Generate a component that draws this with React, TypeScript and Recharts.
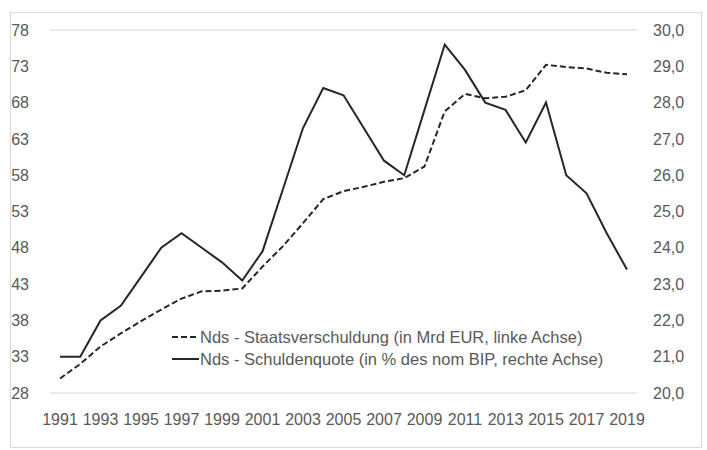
import React from 'react';
import { LineChart, Line, XAxis, YAxis, CartesianGrid } from 'recharts';

const years = ['1991', '1992', '1993', '1994', '1995', '1996', '1997', '1998', '1999', '2000', '2001', '2002', '2003', '2004', '2005', '2006', '2007', '2008', '2009', '2010', '2011', '2012', '2013', '2014', '2015', '2016', '2017', '2018', '2019'];
const debt = [30.0, 32.0, 34.4, 36.2, 37.9, 39.5, 41.0, 42.0, 42.1, 42.4, 45.4, 48.2, 51.4, 54.7, 55.8, 56.4, 57.1, 57.6, 59.2, 66.8, 69.2, 68.6, 68.8, 69.7, 73.2, 72.9, 72.7, 72.1, 71.9];
const quota = [21.0, 21.0, 22.0, 22.4, 23.2, 24.0, 24.4, 24.0, 23.6, 23.1, 23.9, 25.6, 27.3, 28.4, 28.2, 27.3, 26.4, 26.0, 27.8, 29.6, 28.9, 28.0, 27.8, 26.9, 28.0, 26.0, 25.5, 24.4, 23.4];
const leftTicks = [28, 33, 38, 43, 48, 53, 58, 63, 68, 73, 78];
const rightTicks = [20, 21, 22, 23, 24, 25, 26, 27, 28, 29, 30];
const legendLabels = [
  'Nds - Staatsverschuldung (in Mrd EUR, linke Achse)',
  'Nds - Schuldenquote (in % des nom BIP, rechte Achse)',
];

const data = years.map((y, i) => ({ year: y, debt: debt[i], quota: quota[i] }));

const FONT = '"Liberation Sans", Arial, sans-serif';
const TXT = '#595959';
const LINE = '#262626';

function ChartLegend() {
  return (
    <div style={{ position: 'absolute', left: 172, top: 326, fontFamily: FONT, fontSize: 16.5, color: TXT, whiteSpace: 'nowrap' }}>
      {legendLabels.map((l, i) => (
        <div key={i} style={{ display: 'flex', alignItems: 'center', height: 22 }}>
          <svg width={28} height={10} style={{ display: 'block' }}>
            <line x1={0} y1={5} x2={27} y2={5} stroke={LINE} strokeWidth={2} strokeDasharray={i === 0 ? '6 3' : undefined} />
          </svg>
          <span>{l}</span>
        </div>
      ))}
    </div>
  );
}

export default function App() {
  return (
    <div style={{ position: 'fixed', top: 0, left: 0, width: 707, height: 450, background: '#fff' }}>
      <div style={{ position: 'absolute', left: 10, top: 12, width: 692, height: 436, border: '1px solid #d9d9d9', boxSizing: 'border-box' }} />
      <div style={{ position: 'absolute', left: 0, top: 0 }}>
        <LineChart width={707} height={450} data={data} margin={{ top: 30, right: 10, bottom: 27, left: 10 }}>
          <CartesianGrid vertical={false} stroke="#e4e4e4" strokeWidth={1.5} />
          <XAxis
            dataKey="year"
            interval={1}
            axisLine={false}
            tickLine={false}
            tickSize={0}
            tickMargin={21}
            height={30}
            padding={{ left: 10, right: 10 }}
            tick={{ fill: TXT, fontSize: 16, fontFamily: FONT }}
          />
          <YAxis
            yAxisId="left"
            domain={[28, 78]}
            ticks={leftTicks}
            axisLine={false}
            tickLine={false}
            tickSize={0}
            tickMargin={21}
            width={40}
            tick={{ fill: TXT, fontSize: 16, fontFamily: FONT }}
          />
          <YAxis
            yAxisId="right"
            orientation="right"
            domain={[20, 30]}
            ticks={rightTicks}
            axisLine={false}
            tickLine={false}
            tickSize={0}
            tickMargin={16}
            width={60}
            tickFormatter={(v: number) => v.toFixed(1).replace('.', ',')}
            tick={{ fill: TXT, fontSize: 16, fontFamily: FONT, textAnchor: 'start' }}
          />
          <Line yAxisId="left" type="linear" dataKey="debt" stroke={LINE} strokeWidth={2} strokeDasharray="6 3" dot={false} isAnimationActive={false} />
          <Line yAxisId="right" type="linear" dataKey="quota" stroke={LINE} strokeWidth={2} dot={false} isAnimationActive={false} />
        </LineChart>
      </div>
      <ChartLegend />
    </div>
  );
}
